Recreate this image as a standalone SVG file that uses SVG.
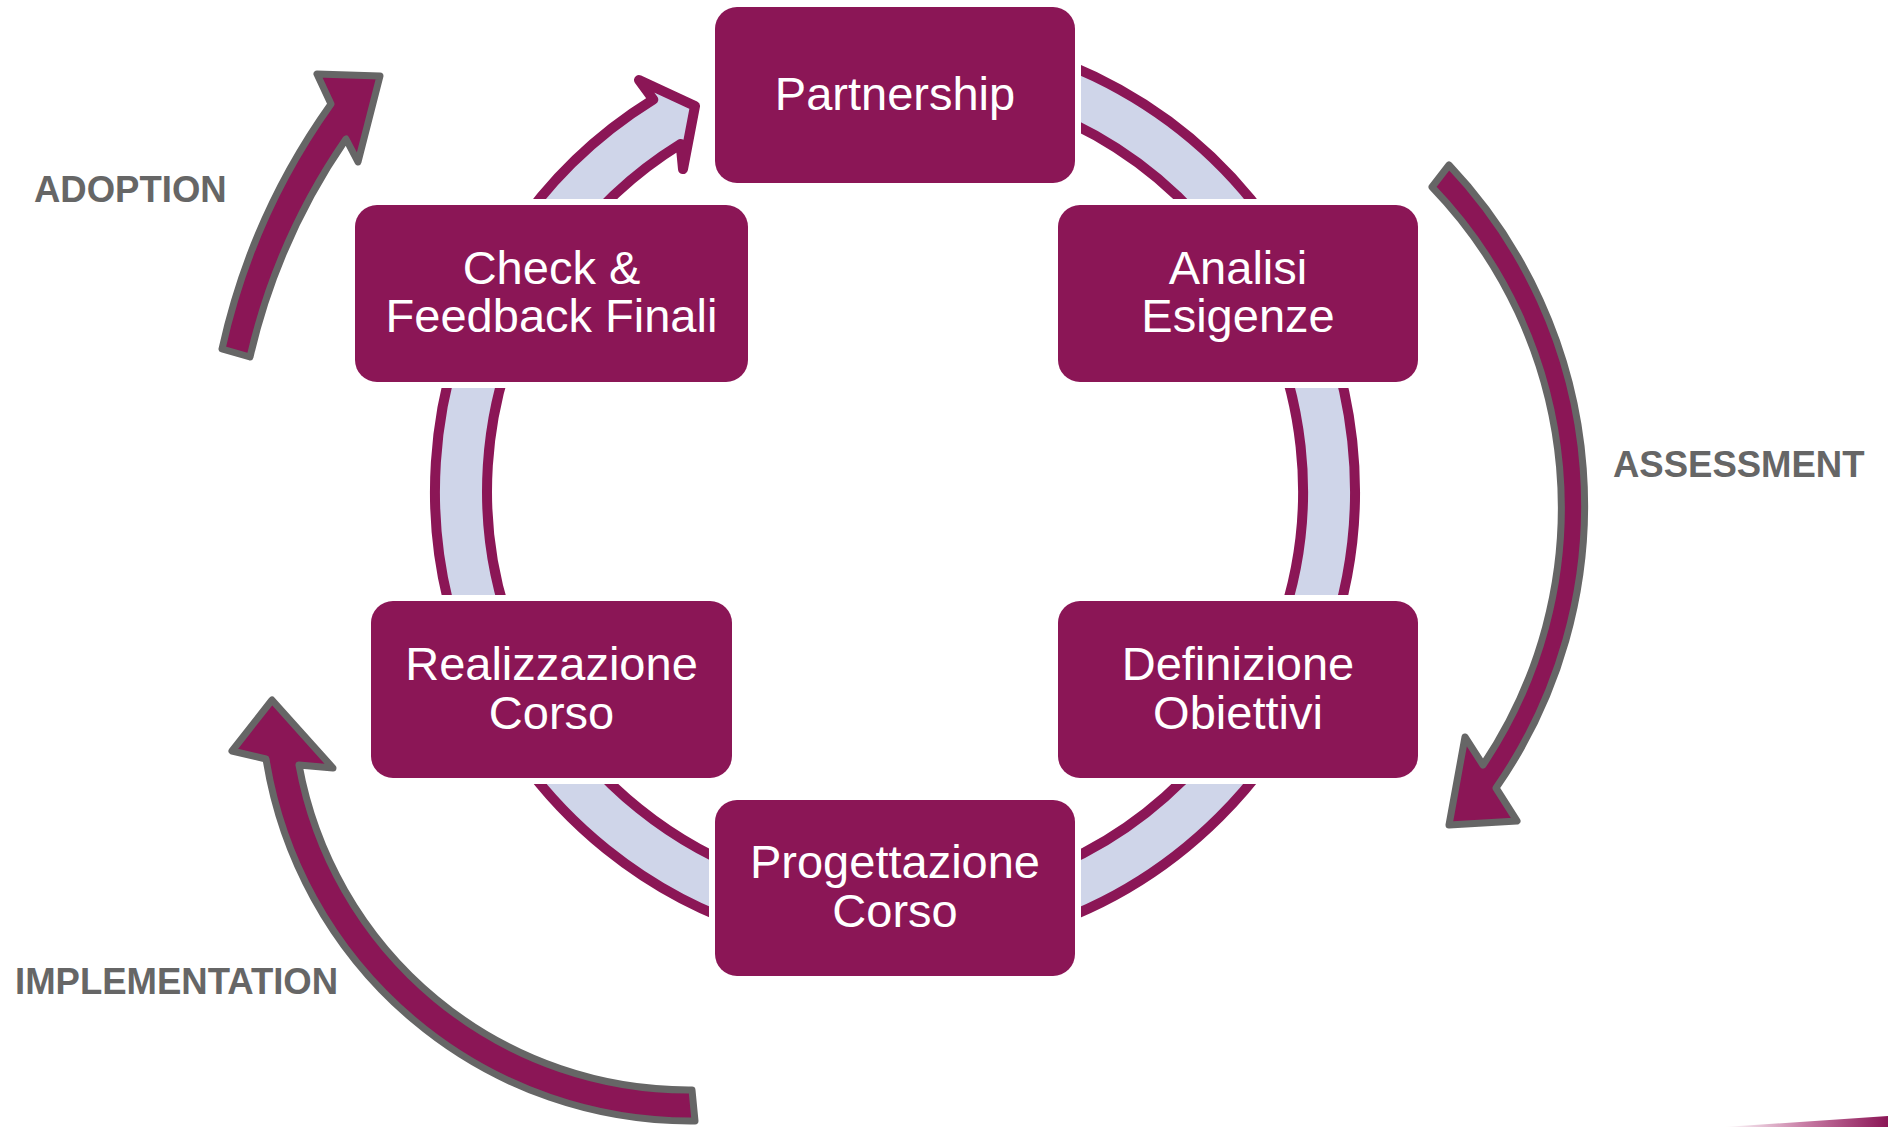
<svg xmlns="http://www.w3.org/2000/svg" width="1888" height="1127" viewBox="0 0 1888 1127">
  <defs>
    <style>
      .halo { fill: #FFFFFF; }
      .box { fill: #8B1656; }
      .boxtxt { fill: #FFFFFF; font-family: "Liberation Sans", Arial, sans-serif; font-size: 47px; text-anchor: middle; }
      .ring { fill: #CFD5E9; stroke: #8B1656; stroke-width: 10; stroke-linejoin: round; }
      .phase { fill: #8B1656; stroke: #666666; stroke-width: 7; stroke-linejoin: round; }
      .label { fill: #666666; font-family: "Liberation Sans", Arial, sans-serif; font-size: 36.5px; font-weight: bold; }
    </style>
    <linearGradient id="sliver" x1="0" y1="0" x2="1" y2="0">
      <stop offset="0" stop-color="#FFFFFF"/>
      <stop offset="0.5" stop-color="#C77AA3"/>
      <stop offset="1" stop-color="#8B1656"/>
    </linearGradient>
  </defs>
  <rect x="0" y="0" width="1888" height="1127" fill="#FFFFFF"/>

  <g id="connectors">
    <path id="cycle-ring" class="ring" d="M 895 31 A 460 460 0 1 1 653.3 99.6 L 639 80 L 695 106 L 683 169 L 680.6 143.9 A 408 408 0 1 0 895 83 Z"/>
    <path id="arrow-adoption" class="phase" d="M 222 349 A 670 670 0 0 1 331 104 L 317 74 L 380 76 L 358 162 L 346 139 A 635 635 0 0 0 250 357 Z"/>
    <path id="arrow-assessment" class="phase" d="M 1449 165 A 495 495 0 0 1 1496 788 L 1517 821 L 1449 825 L 1465 737 L 1483 765 A 462 462 0 0 0 1432 187 Z"/>
    <path id="arrow-implementation" class="phase" d="M 692 1090 A 396 396 0 0 1 299 765 L 333 768 L 272 700 L 232 751 L 266 759 A 430 430 0 0 0 695 1121 Z"/>
  </g>

  <g id="node-partnership">
    <rect class="halo" x="709" y="1" width="372" height="188" rx="28" ry="28"/>
    <rect class="box" x="715" y="7" width="360" height="176" rx="22" ry="22"/>
    <text class="boxtxt" x="895" y="110">Partnership</text>
  </g>
  <g id="node-analisi">
    <rect class="halo" x="1052" y="199" width="372" height="189" rx="28" ry="28"/>
    <rect class="box" x="1058" y="205" width="360" height="177" rx="22" ry="22"/>
    <text class="boxtxt" x="1238" y="284">Analisi</text>
    <text class="boxtxt" x="1238" y="332">Esigenze</text>
  </g>
  <g id="node-definizione">
    <rect class="halo" x="1052" y="595" width="372" height="189" rx="28" ry="28"/>
    <rect class="box" x="1058" y="601" width="360" height="177" rx="22" ry="22"/>
    <text class="boxtxt" x="1238" y="680">Definizione</text>
    <text class="boxtxt" x="1238" y="729">Obiettivi</text>
  </g>
  <g id="node-progettazione">
    <rect class="halo" x="709" y="794" width="372" height="188" rx="28" ry="28"/>
    <rect class="box" x="715" y="800" width="360" height="176" rx="22" ry="22"/>
    <text class="boxtxt" x="895" y="878">Progettazione</text>
    <text class="boxtxt" x="895" y="927">Corso</text>
  </g>
  <g id="node-realizzazione">
    <rect class="halo" x="365" y="595" width="373" height="189" rx="28" ry="28"/>
    <rect class="box" x="371" y="601" width="361" height="177" rx="22" ry="22"/>
    <text class="boxtxt" x="551.5" y="680">Realizzazione</text>
    <text class="boxtxt" x="551.5" y="729">Corso</text>
  </g>
  <g id="node-check">
    <rect class="halo" x="349" y="199" width="405" height="189" rx="28" ry="28"/>
    <rect class="box" x="355" y="205" width="393" height="177" rx="22" ry="22"/>
    <text class="boxtxt" x="551.5" y="284">Check &amp;</text>
    <text class="boxtxt" x="551.5" y="332">Feedback Finali</text>
  </g>

  <g id="labels">
    <text class="label" x="34" y="202">ADOPTION</text>
    <text class="label" x="1613" y="477">ASSESSMENT</text>
    <text class="label" x="15" y="994">IMPLEMENTATION</text>
  </g>

  <polygon points="1724,1127 1888,1116 1888,1127" fill="url(#sliver)"/>
</svg>
